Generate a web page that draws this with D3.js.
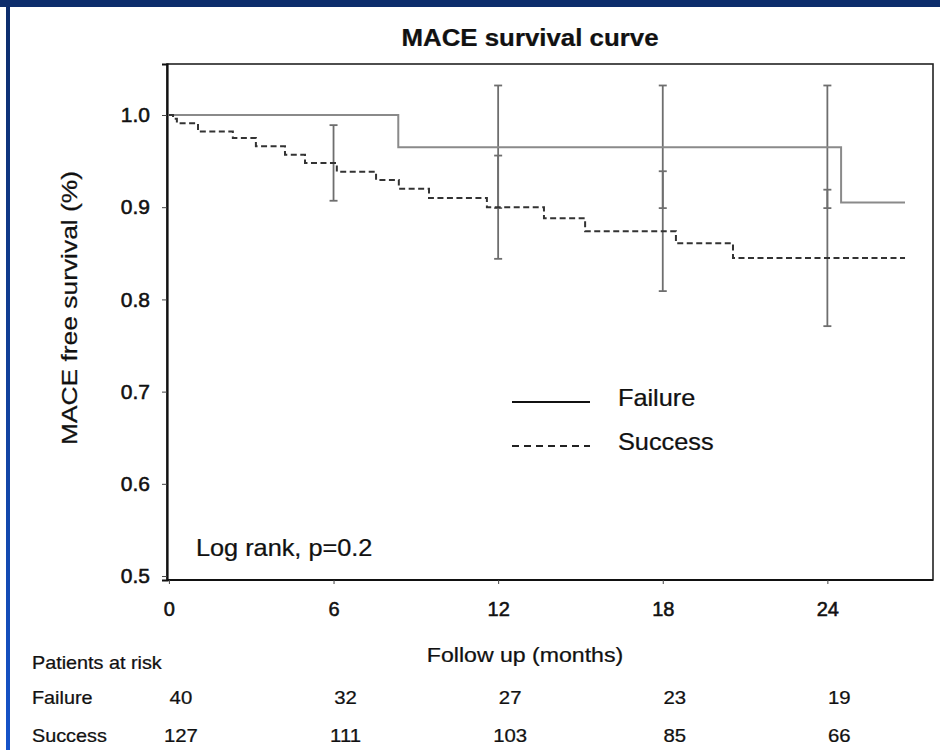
<!DOCTYPE html>
<html>
<head>
<meta charset="utf-8">
<script src="https://cdn.jsdelivr.net/npm/d3@7"></script>
<style>
  html, body { margin: 0; padding: 0; background: #fff; }
  svg { display: block; }
  text { font-family: "Liberation Sans", Arial, Helvetica, sans-serif; fill: #111; }
</style>
</head>
<body>
<svg id="chart" width="940" height="750"></svg>
<script>
// ---------- data ----------
const title = "MACE survival curve";
const yLabel = "MACE free survival (%)";
const xLabel = "Follow up (months)";
const xTicks = [0, 6, 12, 18, 24];
const yTicks = [0.5, 0.6, 0.7, 0.8, 0.9, 1.0];

// Kaplan-Meier step curves (time in months, survival)
const failureTimes  = [0, 8.36, 24.5, 26.83];
const failureValues = [1.0, 0.965, 0.905, 0.905];

const successTimes  = [0, 0.15, 0.29, 1.06, 2.33, 3.17, 4.23, 4.96, 6.12, 7.55, 8.38, 9.48, 11.59, 13.67, 15.17, 18.48, 20.56, 26.83];
const successValues = [1.0, 0.996, 0.991, 0.982, 0.975, 0.966, 0.957, 0.948, 0.9385, 0.9295, 0.920, 0.910, 0.900, 0.888, 0.874, 0.861, 0.845, 0.845];

// confidence intervals
const ciTimes       = [6, 12, 18, 24];
const failureUpper  = [null, 1.032, 1.032, 1.032];
const failureLower  = [null, 0.899, 0.899, 0.899];
const successUpper  = [0.989, 0.956, 0.939, 0.919];
const successLower  = [0.907, 0.844, 0.809, 0.771];

// patients at risk
const riskTimes   = [0, 6, 12, 18, 24];
const riskFailure = [40, 32, 27, 23, 19];
const riskSuccess = [127, 111, 103, 85, 66];

const groups = ["Failure", "Success"];
const annotation = "Log rank, p=0.2";
const riskTitle = "Patients at risk";

// ---------- drawing ----------
const svg = d3.select("#chart");
const SX = 1.1; // horizontal stretch of the original picture's lettering

function htext(x0, y0, str, size, anchor, weight) {
  return svg.append("text")
    .attr("transform", `translate(${x0},${y0}) scale(${SX},1)`)
    .attr("text-anchor", anchor || "start")
    .attr("font-size", size)
    .attr("font-weight", weight || "normal")
    .attr("fill", "#111").attr("stroke", "#111").attr("stroke-width", 0.25)
    .text(str);
}

// page frame (blue bars)
const defs = svg.append("defs");
const grad = defs.append("linearGradient").attr("id", "sideGrad")
  .attr("x1", 0).attr("y1", 0).attr("x2", 0).attr("y2", 1);
grad.append("stop").attr("offset", "0%").attr("stop-color", "#0d2d6c");
grad.append("stop").attr("offset", "100%").attr("stop-color", "#1553c9");
svg.append("rect").attr("x", 0).attr("y", 0).attr("width", 940).attr("height", 7).attr("fill", "#0d2d6c");
svg.append("rect").attr("x", 6).attr("y", 7).attr("width", 4).attr("height", 743).attr("fill", "url(#sideGrad)");

const x = d3.scaleLinear().domain([-0.07, 27.85]).range([167, 933]);
const y = d3.scaleLinear().domain([0.4957, 1.0553]).range([580, 64]);

// plot frame
svg.append("rect")
  .attr("x", x.range()[0]).attr("y", y.range()[1])
  .attr("width", x.range()[1] - x.range()[0])
  .attr("height", y.range()[0] - y.range()[1])
  .attr("fill", "none").attr("stroke", "#222").attr("stroke-width", 1.6);

// axes
const yAxis = d3.axisLeft(y).tickValues(yTicks).tickFormat(d3.format(".1f")).tickSize(5).tickPadding(12);
const gy = svg.append("g").attr("transform", `translate(${x.range()[0]},0)`).call(yAxis);
gy.attr("font-size", 21);
gy.select(".domain").attr("stroke", "#111").attr("stroke-width", 2.2);
gy.selectAll(".tick line").attr("stroke", "#444");
gy.selectAll(".tick text").attr("font-size", 21).attr("fill", "#111")
  .style("font-family", "'Liberation Sans', Arial, sans-serif").attr("stroke", "#111").attr("stroke-width", 0.55);

const xAxis = d3.axisBottom(x).tickValues(xTicks).tickSize(4).tickPadding(18);
const gx = svg.append("g").attr("transform", `translate(0,${y.range()[0]})`).call(xAxis);
gx.attr("font-size", 20);
gx.select(".domain").attr("d", `M${x.range()[0]},0H${x.range()[1]}`).attr("stroke", "#111").attr("stroke-width", 2.2);
gx.selectAll(".tick line").attr("stroke", "#444");
gx.selectAll(".tick text").attr("font-size", 20).attr("fill", "#111")
  .style("font-family", "'Liberation Sans', Arial, sans-serif").attr("stroke", "#111").attr("stroke-width", 0.55);

// curves
const line = d3.line().x(d => x(d[0])).y(d => y(d[1])).curve(d3.curveStepAfter);
const failureData = failureTimes.map((t, i) => [t, failureValues[i]]);
const successData = successTimes.map((t, i) => [t, successValues[i]]);

// error bars
const capW = 4;
function errorBar(t, lo, hi) {
  if (lo == null || hi == null) return;
  const g = svg.append("g").attr("stroke", "#6e6e6e").attr("stroke-width", 1.8);
  g.append("line").attr("x1", x(t)).attr("x2", x(t)).attr("y1", y(hi)).attr("y2", y(lo));
  g.append("line").attr("x1", x(t) - capW).attr("x2", x(t) + capW).attr("y1", y(hi)).attr("y2", y(hi));
  g.append("line").attr("x1", x(t) - capW).attr("x2", x(t) + capW).attr("y1", y(lo)).attr("y2", y(lo));
}
ciTimes.forEach((t, i) => {
  errorBar(t, failureLower[i], failureUpper[i]);
  errorBar(t, successLower[i], successUpper[i]);
});

svg.append("path").datum(failureData).attr("d", line)
  .attr("fill", "none").attr("stroke", "#8a8a8a").attr("stroke-width", 2);
svg.append("path").datum(successData).attr("d", line)
  .attr("fill", "none").attr("stroke", "#333").attr("stroke-width", 2).attr("stroke-dasharray", "6,3.5");

// legend
svg.append("line").attr("x1", 512).attr("x2", 590).attr("y1", 402).attr("y2", 402)
  .attr("stroke", "#111").attr("stroke-width", 2);
htext(618, 406, groups[0], 23);
svg.append("line").attr("x1", 512).attr("x2", 590).attr("y1", 446).attr("y2", 446)
  .attr("stroke", "#222").attr("stroke-width", 2).attr("stroke-dasharray", "7,5");
htext(618, 450, groups[1], 23);

// annotation
htext(196, 556, annotation, 23);

// title
htext(530, 46, title, 23.5, "middle", "bold");

// axis labels
svg.append("text").attr("transform", "translate(77,308) rotate(-90) scale(1.2,1)")
  .attr("text-anchor", "middle").attr("font-size", 22)
  .attr("stroke", "#111").attr("stroke-width", 0.25).text(yLabel);
htext(525, 662, xLabel, 21, "middle");

// risk table
htext(32, 669, riskTitle, 18);
htext(32, 704, groups[0], 18);
htext(32, 742, groups[1], 18);
riskFailure.forEach((d, i) => htext(x(riskTimes[i]) + 12, 704, d, 18.5, "middle"));
riskSuccess.forEach((d, i) => htext(x(riskTimes[i]) + 12, 742, d, 18.5, "middle"));
</script>
</body>
</html>
